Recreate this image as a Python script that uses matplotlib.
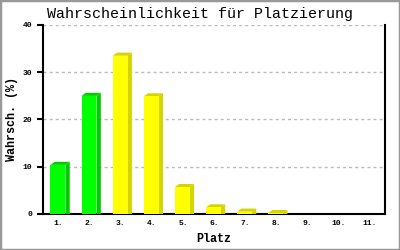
import numpy as np
import matplotlib
matplotlib.use("Agg")
from matplotlib import pyplot as plt
from matplotlib.patches import Polygon, Rectangle

places = ['1.', '2.', '3.', '4.', '5.', '6.', '7.', '8.', '9.', '10.', '11.']
probs = [10.4, 25.0, 33.5, 24.9, 5.7, 1.4, 0.5, 0.2, 0.0, 0.0, 0.0]
fronts = ['#00FF00', '#00FF00', '#FFFF00', '#FFFF00', '#FFFF00', '#FFFF00',
          '#FFFF00', '#FFFF00', '#FFFF00', '#FFFF00', '#FFFF00']
sides = ['#00CC00', '#00CC00', '#D4D400', '#D4D400', '#D4D400', '#D4D400',
         '#D4D400', '#D4D400', '#D4D400', '#D4D400', '#D4D400']

mono = 'Liberation Mono'

fig = plt.figure(figsize=(4, 2.5), dpi=100)
ax = fig.add_axes([43/400, 1 - 214/250, 342/400, 189/250])

x = np.arange(1, len(places) + 1)
width = 0.48
dx = 0.14   # depth offset in x (data units)
dy = 0.65   # depth offset in y (data units)

for xi, v, fc, sc in zip(x, probs, fronts, sides):
    if v <= 0:
        continue
    x0 = xi - width / 2 - 0.02
    x1 = x0 + width
    # side face
    ax.add_patch(Polygon([(x1, 0), (x1 + dx, 0), (x1 + dx, v + dy), (x1, v)],
                         closed=True, facecolor=sc, edgecolor='none', zorder=3))
    # top face
    ax.add_patch(Polygon([(x0, v), (x0 + dx, v + dy), (x1 + dx, v + dy), (x1, v)],
                         closed=True, facecolor=sc, edgecolor='none', zorder=3))
    ax.bar(xi - 0.02, v, width, color=fc, zorder=4)

ax.set_xlim(0.5, 11.5)
ax.set_ylim(0, 40)
ax.set_yticks([0, 10, 20, 30, 40])
ax.set_xticks(x)
ax.set_xticklabels(places, fontname=mono, fontweight='bold', fontsize=5.8)
ax.set_yticklabels(['0', '10', '20', '30', '40'], fontname=mono, fontweight='bold', fontsize=5.8)
ax.tick_params(axis='x', length=0, pad=4)
ax.tick_params(axis='y', length=4, width=1.5, pad=4)
ax.yaxis.grid(True, color='#BBBBBB', linestyle=(0, (2.2, 2.2)), linewidth=1)
ax.set_axisbelow(True)
ax.spines['top'].set_visible(False)
for s in ['left', 'bottom', 'right']:
    ax.spines[s].set_linewidth(1.5)

fig.text(214/400, 1 - 239/250, 'Platz', fontname=mono, fontweight='bold',
         fontsize=8.5, ha='center', va='center')
fig.text(12/400, 1 - 119/250, 'Wahrsch. (%)', fontname=mono, fontweight='bold',
         fontsize=8.5, ha='center', va='center', rotation=90)
fig.text(200/400, 1 - 14/250, 'Wahrscheinlichkeit für Platzierung', fontname=mono,
         fontsize=10.8, ha='center', va='center')

fig.patches.append(Rectangle((0, 0), 1, 1, transform=fig.transFigure, fill=False,
                             edgecolor='#999999', linewidth=2.5))

fig.savefig('out.png', dpi=100)
